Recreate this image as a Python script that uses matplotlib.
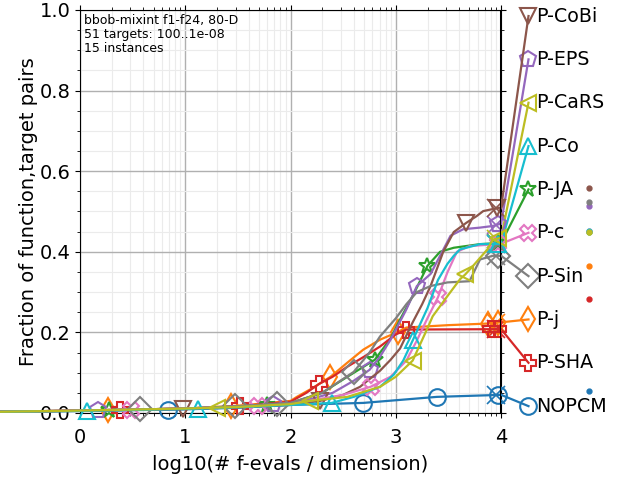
import numpy as np
import matplotlib
matplotlib.use('Agg')
import matplotlib.pyplot as plt
from matplotlib.ticker import FixedLocator, MultipleLocator

# ---------------- data ----------------
names = ['NOPCM', 'P-j', 'P-JA', 'P-SHA', 'P-EPS', 'P-CoBi', 'P-c', 'P-Sin', 'P-CaRS', 'P-Co']

low_x = [-0.76, 0.0, 1.0, 1.5]
curve_x = {
    'NOPCM':  low_x + [2.0, 2.69, 3.39, 4.0],
    'P-j':    low_x + [2.0, 2.06, 2.21, 2.38, 2.54, 2.69, 2.85, 3.01, 3.1, 3.5, 3.88, 4.0],
    'P-JA':   low_x + [2.0, 2.3, 2.54, 2.8, 2.95, 3.04, 3.16, 3.3, 3.42, 3.55, 3.8, 4.0],
    'P-SHA':  low_x + [2.0, 2.15, 2.27, 2.4, 2.54, 2.7, 2.85, 3.0, 3.1, 4.0],
    'P-EPS':  low_x + [2.0, 2.2, 2.4, 2.6, 2.75, 2.85, 2.95, 3.1, 3.2, 3.33, 3.42, 3.52, 3.64, 3.8, 3.92, 4.0],
    'P-CoBi': low_x + [2.0, 2.28, 2.5, 2.66, 2.85, 2.95, 3.04, 3.16, 3.25, 3.33, 3.45, 3.55, 3.67, 3.77, 3.83, 3.92, 4.0],
    'P-c':    low_x + [2.0, 2.5, 2.76, 2.95, 3.1, 3.2, 3.3, 3.4, 3.49, 3.58, 3.7, 3.9, 4.0],
    'P-Sin':  low_x + [2.0, 2.3, 2.6, 2.75, 2.85, 3.0, 3.1, 3.2, 3.33, 3.49, 3.7, 3.77, 3.8, 3.92, 4.0],
    'P-CaRS': low_x + [2.0, 2.18, 2.54, 2.85, 3.0, 3.16, 3.23, 3.3, 3.35, 3.49, 3.61, 3.66, 3.73, 3.87, 3.92, 4.0],
    'P-Co':   low_x + [2.0, 2.39, 2.6, 2.85, 2.98, 3.07, 3.16, 3.3, 3.4, 3.49, 3.55, 3.61, 3.8, 4.0],
}
curve_y = {
    'NOPCM':  [0.003, 0.005, 0.009, 0.013, 0.02, 0.025, 0.04, 0.045],
    'P-j':    [0.003, 0.006, 0.011, 0.018, 0.03, 0.04, 0.062, 0.09, 0.125, 0.157, 0.182, 0.2, 0.212, 0.218, 0.222, 0.225],
    'P-JA':   [0.003, 0.006, 0.011, 0.016, 0.025, 0.05, 0.09, 0.132, 0.185, 0.232, 0.29, 0.365, 0.4, 0.41, 0.419, 0.422],
    'P-SHA':  [0.003, 0.006, 0.011, 0.016, 0.028, 0.05, 0.072, 0.09, 0.115, 0.14, 0.165, 0.195, 0.207, 0.208],
    'P-EPS':  [0.003, 0.006, 0.011, 0.016, 0.025, 0.035, 0.05, 0.08, 0.107, 0.14, 0.182, 0.257, 0.315, 0.345, 0.39, 0.44, 0.456, 0.46, 0.464, 0.47],
    'P-CoBi': [0.003, 0.005, 0.01, 0.014, 0.02, 0.03, 0.045, 0.065, 0.105, 0.132, 0.16, 0.225, 0.27, 0.315, 0.4, 0.449, 0.472, 0.489, 0.501, 0.506, 0.51],
    'P-c':    [0.003, 0.006, 0.011, 0.016, 0.022, 0.045, 0.065, 0.09, 0.13, 0.18, 0.235, 0.287, 0.349, 0.4, 0.414, 0.418, 0.42],
    'P-Sin':  [0.003, 0.006, 0.011, 0.017, 0.025, 0.05, 0.102, 0.15, 0.19, 0.235, 0.27, 0.3, 0.315, 0.324, 0.327, 0.365, 0.381, 0.39, 0.39],
    'P-CaRS': [0.003, 0.006, 0.011, 0.015, 0.022, 0.03, 0.04, 0.065, 0.09, 0.13, 0.17, 0.21, 0.24, 0.29, 0.332, 0.344, 0.364, 0.406, 0.43, 0.435],
    'P-Co':   [0.003, 0.005, 0.01, 0.014, 0.02, 0.025, 0.04, 0.065, 0.095, 0.13, 0.18, 0.26, 0.33, 0.37, 0.39, 0.406, 0.419, 0.42],
}
marker_x = {
    'NOPCM':  [0.84, 2.69, 3.39, 3.97],
    'P-j':    [0.27, 1.43, 2.37, 3.02, 3.88, 3.97],
    'P-JA':   [0.28, 1.78, 2.8, 3.3, 3.97],
    'P-SHA':  [0.38, 1.52, 2.27, 3.1, 3.9, 3.97],
    'P-EPS':  [0.17, 1.83, 2.75, 3.2, 3.97],
    'P-CoBi': [0.98, 2.28, 3.67, 3.96],
    'P-c':    [0.48, 1.69, 2.76, 3.4, 3.97],
    'P-Sin':  [0.57, 1.47, 1.87, 2.6, 3.97],
    'P-CaRS': [1.3, 2.18, 3.16, 3.66, 3.97],
    'P-Co':   [0.07, 1.12, 2.39, 3.16, 3.97],
}
# order of the labels on the right, top to bottom
label_order = ['P-CoBi', 'P-EPS', 'P-CaRS', 'P-Co', 'P-JA', 'P-c', 'P-Sin', 'P-j', 'P-SHA', 'NOPCM']
# small dots at the right
dot_values = {'P-CoBi': 0.559, 'P-Sin': 0.524, 'P-EPS': 0.514, 'P-Co': 0.451, 'P-CaRS': 0.449,
              'P-c': 0.452, 'P-JA': 0.450, 'P-j': 0.364, 'P-SHA': 0.284, 'NOPCM': 0.055}
x_ticks = [0, 1, 2, 3, 4]
y_ticks = [0.0, 0.2, 0.4, 0.6, 0.8, 1.0]
info_text = 'bbob-mixint f1-f24, 80-D\n51 targets: 100..1e-08\n15 instances'

# ---------------- style ----------------
colors = {n: 'C%d' % i for i, n in enumerate(names)}
markers = {'NOPCM': 'o', 'P-j': 'd', 'P-JA': '*', 'P-SHA': 'P', 'P-EPS': 'p',
           'P-CoBi': 'v', 'P-c': 'X', 'P-Sin': 'D', 'P-CaRS': '<', 'P-Co': '^'}
draw_order = ['NOPCM', 'P-j', 'P-JA', 'P-SHA', 'P-EPS', 'P-CoBi', 'P-c', 'P-Sin', 'P-Co', 'P-CaRS']

fig = plt.figure(figsize=(6.4, 4.8), dpi=100)
ax = fig.add_axes([0.125, 0.1396, 0.658, 0.8396])
ax.set_xlim(0, 4)
ax.set_ylim(0, 1)

label_y = np.linspace(0.985, 0.017, len(label_order))
lab_pos = dict(zip(label_order, label_y))
x_lab = 4.26
x_dot = 4.83

ms = 12
for z, n in enumerate(draw_order):
    c = colors[n]
    xs = np.array(curve_x[n]); ys = np.array(curve_y[n])
    ax.plot(xs, ys, color=c, lw=1.6, clip_on=False, zorder=3 + z * 0.1,
            solid_joinstyle='round')
    mx = np.array(marker_x[n]); my = np.interp(mx, xs, ys)
    ax.plot(mx, my, ls='none', marker=markers[n], ms=ms, mfc='none', mec=c, mew=1.5,
            clip_on=False, zorder=3 + z * 0.1)
    # median max-evals cross
    ax.plot([3.95], [np.interp(3.95, xs, ys)], ls='none', marker='x', ms=13, mec=c, mew=1.2,
            clip_on=False, zorder=3)
    # connector to label
    ly = lab_pos[n]
    ax.plot([xs[-1], x_lab], [ys[-1], ly], color=c, lw=1.6, clip_on=False, zorder=3)
    ax.plot([x_lab], [ly], ls='none', marker=markers[n], ms=ms, mfc='none', mec=c, mew=1.5,
            clip_on=False, zorder=3)
    ax.text(x_lab + 0.07, ly, n, fontsize=13.7, va='center', ha='left', clip_on=False)
    ax.plot([x_dot], [dot_values[n]], ls='none', marker='o', ms=3.5, color=c, clip_on=False)

ax.axvline(4, color='k', lw=2.2, zorder=5)

ax.set_xticks(x_ticks)
ax.set_yticks(y_ticks)
ax.set_yticklabels(['%.1f' % v for v in y_ticks])
minor_x = [d + np.log10(k) for d in range(4) for k in range(2, 10)]
ax.xaxis.set_minor_locator(FixedLocator(minor_x))
ax.yaxis.set_minor_locator(MultipleLocator(0.05))
ax.tick_params(which='both', direction='out', top=True, right=True, labelsize=14)
ax.tick_params(axis='x', which='major', pad=7)
ax.grid(True, which='major', color='#b0b0b0', lw=1.0)
ax.grid(True, which='minor', color='#ebebeb', lw=0.8)
ax.set_axisbelow(True)

ax.set_xlabel('log10(# f-evals / dimension)', fontsize=14, labelpad=6)
ax.set_ylabel('Fraction of function,target pairs', fontsize=14, labelpad=1)
ax.text(0.01, 0.99, info_text, transform=ax.transAxes, fontsize=9, va='top', ha='left',
        linespacing=1.1)

fig.savefig('out.png', dpi=100)
